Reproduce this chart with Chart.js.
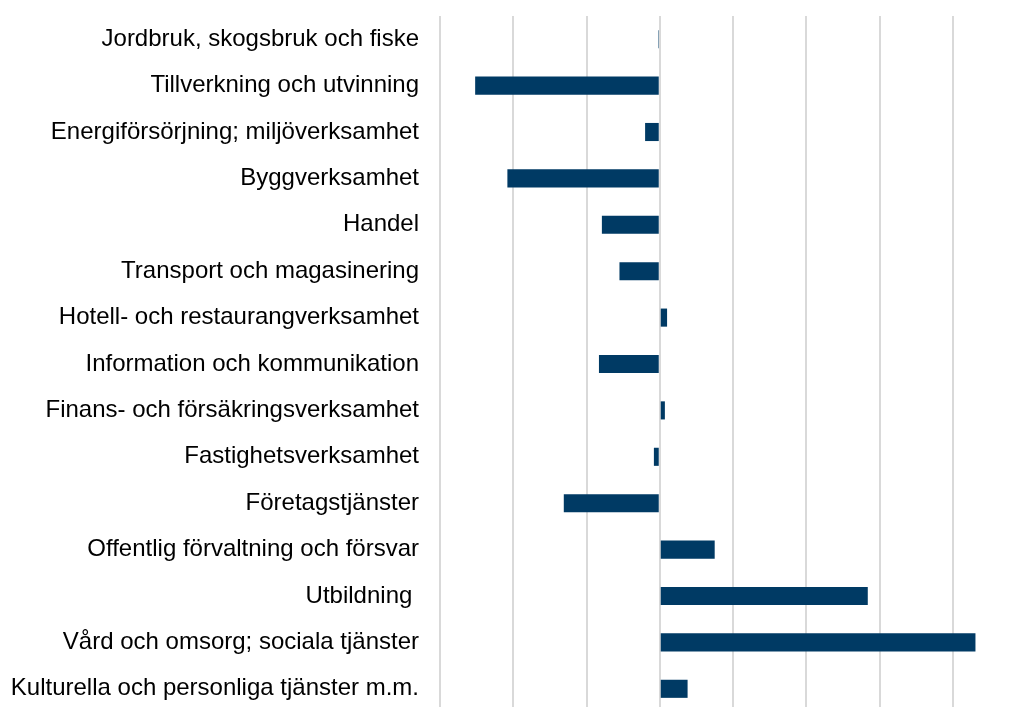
<!DOCTYPE html>
<html>
<head>
<meta charset="utf-8">
<script src="https://cdn.jsdelivr.net/npm/chart.js@4/dist/chart.umd.min.js"></script>
<style>
  html, body { margin: 0; padding: 0; background: #fff; overflow: hidden; }
  #wrap { width: 1026px; height: 712px; position: relative; }
</style>
</head>
<body>
<div id="wrap"><canvas id="chart_branscher"></canvas></div>
<script>
const branscher = [
    "Jordbruk, skogsbruk och fiske",
    "Tillverkning och utvinning",
    "Energiförsörjning; miljöverksamhet",
    "Byggverksamhet",
    "Handel",
    "Transport och magasinering",
    "Hotell- och restaurangverksamhet",
    "Information och kommunikation",
    "Finans- och försäkringsverksamhet",
    "Fastighetsverksamhet",
    "Företagstjänster",
    "Offentlig förvaltning och försvar",
    "Utbildning ",
    "Vård och omsorg; sociala tjänster",
    "Kulturella och personliga tjänster m.m."
];

const forandring = [-0.02, -2.52, -0.2, -2.08, -0.79, -0.55, 0.1, -0.83, 0.07, -0.08, -1.31, 0.75, 2.84, 4.31, 0.38];

const xMin = -3;
const xMax = 5;

const barColor = 'rgb(0, 58, 100)';
const gridColor = '#d9d9d9';

function render_chart() {
    const ctx = document.getElementById('chart_branscher').getContext('2d');
    const chart = new Chart(ctx, {
        type: 'bar',
        data: {
            labels: branscher,
            datasets: [
                {
                    label: "Förändring",
                    backgroundColor: barColor,
                    borderColor: barColor,
                    data: forandring,
                    barPercentage: 0.39,
                    categoryPercentage: 1.0
                }
            ]
        },
        options: {
            indexAxis: 'y',
            responsive: true,
            maintainAspectRatio: false,
            animation: false,
            layout: { padding: { top: 16, right: 0, bottom: 0, left: 0 } },
            plugins: {
                legend: { display: false },
                tooltip: { enabled: false }
            },
            scales: {
                x: {
                    min: xMin,
                    max: xMax,
                    ticks: { display: false, stepSize: 1 },
                    grid: { color: gridColor, lineWidth: 2, drawTicks: false },
                    border: { display: false },
                    afterFit: function (scale) { scale.height = 0; }
                },
                y: {
                    grid: { display: false, drawTicks: false },
                    border: { display: false },
                    ticks: {
                        color: '#000',
                        padding: 21,
                        autoSkip: false,
                        font: { family: 'Liberation Sans, Arial, sans-serif', size: 24 }
                    },
                    afterFit: function (scale) {
                        // fixed label column, no extra vertical padding
                        scale.width = 440;
                        scale.paddingTop = 0;
                        scale.paddingBottom = 0;
                    }
                }
            }
        }
    });
}

render_chart();
</script>
</body>
</html>
